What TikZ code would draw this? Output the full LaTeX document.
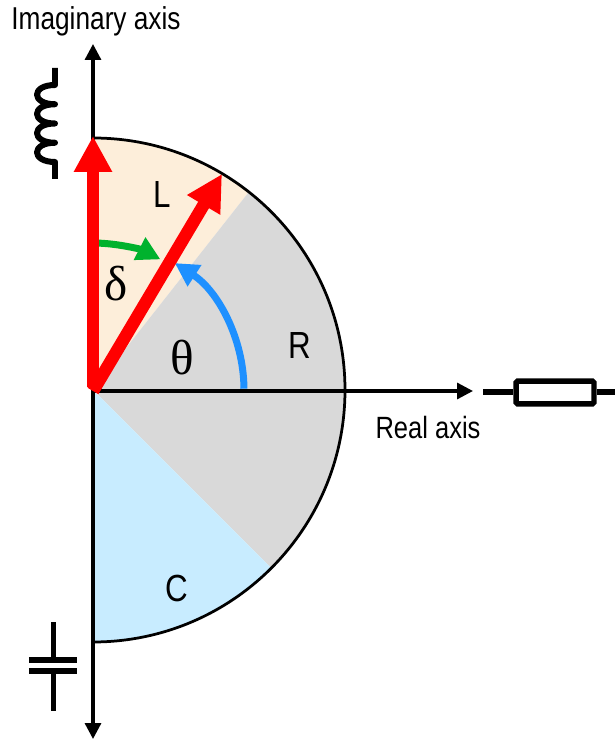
\documentclass[tikz,border=0pt]{standalone}
\usepackage{fontspec}
\setmainfont[FakeStretch=0.83]{Liberation Sans}
\newfontfamily\greekfont{Liberation Serif}
\usetikzlibrary{arrows.meta,positioning}
\definecolor{sectorL}{HTML}{FDEEDA}
\definecolor{sectorR}{HTML}{D9D9D9}
\definecolor{sectorC}{HTML}{C8ECFF}
\definecolor{deltagreen}{HTML}{00B22D}
\definecolor{thetablue}{HTML}{1E90FF}
\begin{document}
\begin{tikzpicture}[
 x=0.02cm,y=0.02cm,
 axis/.style={-{Triangle[length=0.32cm,width=0.32cm]},line width=0.065cm,draw=black},
 phasor/.style={-{Triangle[length=0.72cm,width=0.72cm]},line width=0.25cm,draw=red},
 anglearc/.style={-{Triangle[length=0.47cm,width=0.48cm]},line width=0.14cm},
 symbolline/.style={line width=0.12cm,draw=black},
 label/.style={font=\fontsize{18}{21}\selectfont,inner sep=0pt},
 reallabelstyle/.style={font=\fontsize{17.5}{21}\selectfont,inner sep=0pt},
 sectorlabel/.style={font=\fontsize{21.5}{25}\selectfont,inner sep=0pt},
 greeklabel/.style={font=\fontsize{28}{31}\selectfont\greekfont,inner sep=0pt}
]
\useasboundingbox (-93,-350) rectangle (522,390);
\coordinate (origin) at (0,0);
% sectors
\fill[sectorL] (origin) -- (90:252) arc[start angle=90,end angle=51.8,radius=252] -- cycle;
\fill[sectorR] (origin) -- (51.8:252) arc[start angle=51.8,end angle=-45,radius=252] -- cycle;
\fill[sectorC] (origin) -- (-45:252) arc[start angle=-45,end angle=-90,radius=252] -- cycle;
\draw[line width=0.055cm] (90:252) arc[start angle=90,end angle=-90,radius=252];
% axes
\coordinate (realstart) at (0,-1);
\coordinate (realend) at (380,-1);
\coordinate (imagtop) at (0,346);
\coordinate (imagbottom) at (0,-349);
\draw[axis] (origin) -- (imagtop);
\draw[axis] (origin) -- (imagbottom);
\draw[axis] (realstart) -- (realend);
\node[label] (imaglabel) at (3,369) {Imaginary axis};
\node[reallabelstyle] (reallabel) at (335,-38) {Real axis};
% angles and phasors
\draw[anglearc,draw=deltagreen] (87.7:147) arc[start angle=87.7,end angle=62.7,radius=147];
\draw[anglearc,draw=thetablue] (0.5:151) arc[start angle=0.5,end angle=57.2,radius=151];
\draw[phasor] (0,3) -- (0,254);
\draw[phasor] (0,-1) -- (129,216);
\node[sectorlabel] (labelL) at (69,195) {L};
\node[sectorlabel] (labelR) at (207,44) {R};
\node[sectorlabel] (labelC) at (84,-198) {C};
\node[greeklabel] (delta) at (23,106) {δ};
\node[greeklabel] (theta) at (89,32) {θ};
% resistor
\node[draw,line width=0.11cm,rounded corners=1pt,minimum width=1.56cm,minimum height=0.46cm,inner sep=0pt] (resistor) at (462,-2.5) {};
\coordinate (resleft) at (390,-2.5);
\coordinate (resright) at (522,-2.5);
\draw[symbolline] (resleft) -- (resistor.west);
\draw[symbolline] (resistor.east) -- (resright);
% inductor
\coordinate (indtop) at (-38,322);
\coordinate (indbottom) at (-38,211);
\draw[symbolline,line join=round] (indtop) -- (-38,305)
 \foreach \k in {0,1,2,3} { .. controls (-62,{305-19.25*\k}) and (-62,{305-19.25*(\k+1)}) .. (-38,{305-19.25*(\k+1)}) }
 -- (indbottom);
% capacitor
\coordinate (captop) at (-39.5,-232);
\coordinate (capbottom) at (-39.5,-321);
\coordinate (plateAleft) at (-64,-270);
\coordinate (plateAright) at (-16,-270);
\coordinate (plateBleft) at (-64,-281);
\coordinate (plateBright) at (-16,-281);
\draw[symbolline] (captop) -- (-39.5,-270);
\draw[symbolline] (plateAleft) -- (plateAright);
\draw[symbolline] (plateBleft) -- (plateBright);
\draw[symbolline] (-39.5,-281) -- (capbottom);
\end{tikzpicture}
\end{document}
